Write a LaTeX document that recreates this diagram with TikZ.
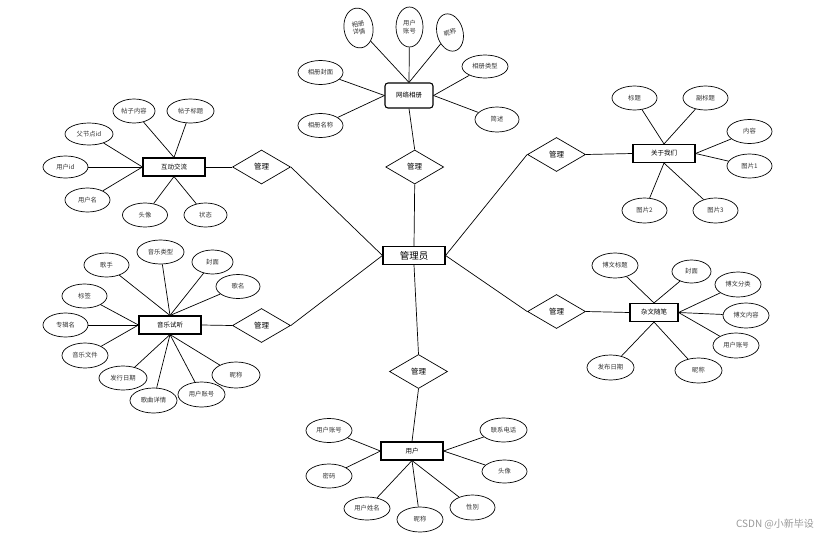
\documentclass[tikz,border=0pt]{standalone}
\usepackage{fontspec}
\newfontfamily\cjk{Noto Sans CJK SC}
\usetikzlibrary{shapes.geometric}
\begin{document}
\begin{tikzpicture}[x=1pt,y=-1pt,line width=0.7pt,
  attr/.style={ellipse,draw,inner sep=0pt,minimum width=45pt,minimum height=24pt,text=black!80,font=\cjk\fontsize{6.3}{7.5}\selectfont,align=center},
  ent/.style={rectangle,draw,line width=1.1pt,minimum width=62pt,minimum height=18pt,inner sep=0pt,font=\cjk\fontsize{6.5}{8}\selectfont},
  rel/.style={diamond,draw,minimum width=58pt,minimum height=34pt,inner sep=0pt,font=\cjk\fontsize{7.5}{9}\selectfont}]
\useasboundingbox (0,0) rectangle (832,541);
\fill[white] (0,0) rectangle (832,541);

% center
\node[ent,minimum width=62pt,font=\cjk\fontsize{9.5}{11}\selectfont] (admin) at (414,255.5) {管理员};
\node[rel] (d1) at (261.5,167) {管理};
\node[rel] (d2) at (261.5,325.5) {管理};
\node[rel] (d3) at (414.7,167) {管理};
\node[rel] (d4) at (418.5,371.5) {管理};
\node[rel] (d5) at (556.5,154.5) {管理};
\node[rel] (d6) at (556.5,311.5) {管理};
\draw (d1.east) -- (admin.west);
\draw (d2.east) -- (admin.west);
\draw (d3.south) -- (admin.north);
\draw (d4.north) -- (admin.south);
\draw (d5.west) -- (admin.east);
\draw (d6.west) -- (admin.east);

% 网络相册
\node[ent,rounded corners=3pt,minimum width=48pt,minimum height=25pt] (album) at (409,95.5) {网络相册};
\node[attr,minimum width=29pt,minimum height=40pt,rotate=8] (a1) at (358.5,28) {相册\\详情};
\node[attr,minimum width=27pt,minimum height=40pt] (a2) at (409.5,27) {用户\\账号};
\node[attr,minimum width=26pt,minimum height=38pt,rotate=15] (a3) at (450,32.5) {昵称};
\node[attr,minimum width=46pt,minimum height=23pt] (a4) at (485,66.5) {相册类型};
\node[attr] (a5) at (320.5,72.5) {相册封面};
\node[attr] (a6) at (320.5,125.5) {相册名称};
\node[attr,minimum width=44pt,minimum height=25pt] (a7) at (497,119.5) {简述};
\draw (a1) -- (album.north);
\draw (a2) -- (album.north);
\draw (a3) -- (album.north);
\draw (a4) -- (album.east);
\draw (a7) -- (album.east);
\draw (a5) -- (album.west);
\draw (a6) -- (album.west);
\draw (album.south) -- (d3.north);

% 互动交流
\node[ent] (hd) at (174,167) {互动交流};
\node[attr,minimum width=42pt] (h1) at (134,111) {帖子内容};
\node[attr,minimum width=47pt] (h2) at (190.5,111) {帖子标题};
\node[attr,minimum width=48pt,minimum height=22pt] (h3) at (89,134) {父节点id};
\node[attr,minimum height=22pt] (h4) at (65.5,167) {用户id};
\node[attr] (h5) at (87.5,200) {用户名};
\node[attr] (h6) at (145,215) {头像};
\node[attr,minimum width=43pt] (h7) at (205.5,215) {状态};
\draw (h1) -- (hd.north);
\draw (h2) -- (hd.north);
\draw (h3) -- (hd.west);
\draw (h4) -- (hd.west);
\draw (h5) -- (hd.west);
\draw (h6) -- (hd.south);
\draw (h7) -- (hd.south);
\draw (hd.east) -- (d1.west);

% 音乐试听
\node[ent] (mu) at (170,325) {音乐试听};
\node[attr] (m1) at (106.5,265) {歌手};
\node[attr,minimum width=47pt] (m2) at (160.5,252) {音乐类型};
\node[attr,minimum width=41pt] (m3) at (212.5,262) {封面};
\node[attr,minimum width=44pt] (m4) at (238,286.5) {歌名};
\node[attr] (m5) at (84.5,296) {标签};
\node[attr] (m6) at (65.5,325) {专辑名};
\node[attr,minimum width=46pt,minimum height=25pt] (m7) at (85,355.5) {音乐文件};
\node[attr,minimum width=48pt] (m8) at (123,378) {发行日期};
\node[attr,minimum width=47pt,minimum height=25pt] (m9) at (153.5,400.5) {歌曲详情};
\node[attr,minimum width=47pt,minimum height=25pt] (m10) at (201.5,394.5) {用户账号};
\node[attr,minimum width=48pt,minimum height=26pt] (m11) at (236,375) {昵称};
\draw (m1) -- (mu.north);
\draw (m2) -- (mu.north);
\draw (m3) -- (mu.north);
\draw (m4) -- (mu.north);
\draw (m5) -- (mu.west);
\draw (m6) -- (mu.west);
\draw (m7) -- (mu.west);
\draw (m8) -- (mu.south);
\draw (m9) -- (mu.south);
\draw (m10) -- (mu.south);
\draw (m11) -- (mu.south);
\draw (mu.east) -- (d2.west);

% 关于我们
\node[ent] (ab) at (664,153.5) {关于我们};
\node[attr] (b1) at (634.5,98) {标题};
\node[attr] (b2) at (705.5,98) {副标题};
\node[attr] (b3) at (749.5,131.5) {内容};
\node[attr] (b4) at (749.5,166) {图片1};
\node[attr,minimum height=25pt] (b5) at (644.5,210.5) {图片2};
\node[attr,minimum height=25pt] (b6) at (715.5,210.5) {图片3};
\draw (b1) -- (ab.north);
\draw (b2) -- (ab.north);
\draw (b3) -- (ab.east);
\draw (b4) -- (ab.east);
\draw (b5) -- (ab.south);
\draw (b6) -- (ab.south);
\draw (d5.east) -- (ab.west);

% 杂文随笔
\node[ent,minimum width=48pt] (es) at (654,312.5) {杂文随笔};
\node[attr,minimum width=46pt,minimum height=25pt] (e1) at (615,265.5) {博文标题};
\node[attr,minimum width=39pt,minimum height=23pt] (e2) at (691.5,271.5) {封面};
\node[attr,minimum width=46pt,minimum height=25pt] (e3) at (738,284.5) {博文分类};
\node[attr,minimum width=46pt,minimum height=25pt] (e4) at (746,315.5) {博文内容};
\node[attr,minimum width=46pt,minimum height=25pt] (e5) at (736,345.5) {用户账号};
\node[attr,minimum width=47pt,minimum height=25pt] (e6) at (698.5,370.5) {昵称};
\node[attr,minimum width=47pt,minimum height=25pt] (e7) at (610.5,367.5) {发布日期};
\draw (e1) -- (es.north);
\draw (e2) -- (es.north);
\draw (e3) -- (es.east);
\draw (e4) -- (es.east);
\draw (e5) -- (es.east);
\draw (e6) -- (es.south);
\draw (e7) -- (es.south);
\draw (d6.east) -- (es.west);

% 用户
\node[ent] (us) at (412,451) {用户};
\node[attr,minimum width=46pt] (u1) at (329,430.5) {用户账号};
\node[attr,minimum width=46pt] (u2) at (329,476) {密码};
\node[attr,minimum width=46pt,minimum height=23pt] (u3) at (367,508.5) {用户姓名};
\node[attr,minimum width=46pt,minimum height=25pt] (u4) at (420,519.5) {昵称};
\node[attr,minimum height=25pt] (u5) at (472.5,507.5) {性别};
\node[attr,minimum width=47pt] (u6) at (503.5,430) {联系电话};
\node[attr,minimum height=23pt] (u7) at (504.5,471.5) {头像};
\draw (u1) -- (us.west);
\draw (u2) -- (us.west);
\draw (u3) -- (us.south);
\draw (u4) -- (us.south);
\draw (u5) -- (us.south);
\draw (u6) -- (us.east);
\draw (u7) -- (us.east);
\draw (d4.south) -- (us.north);

% watermark
\node[font=\cjk\fontsize{10}{12}\selectfont,text=black!40] (wm) at (775,524) {CSDN @小新毕设};
\end{tikzpicture}
\end{document}
